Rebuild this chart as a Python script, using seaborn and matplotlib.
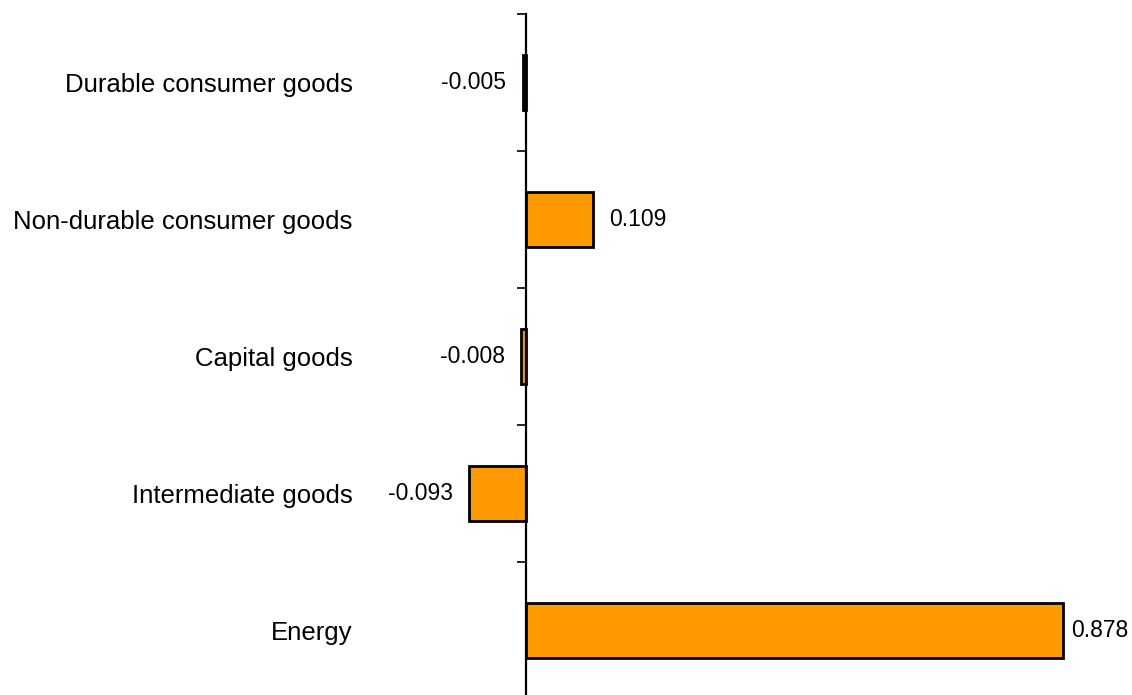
import matplotlib
matplotlib.use("Agg")
import matplotlib.pyplot as plt
import seaborn as sns
import pandas as pd

categories = ["Durable consumer goods", "Non-durable consumer goods", "Capital goods",
              "Intermediate goods", "Energy"]
values = [-0.005, 0.109, -0.008, -0.093, 0.878]

df = pd.DataFrame({"category": categories, "value": values})

sns.set_style("white")
plt.rcParams["font.family"] = ["Liberation Sans", "DejaVu Sans"]

fig = plt.figure(figsize=(11.32, 6.95), dpi=100)
ax = fig.add_axes([0.3837, -0.0058, 0.5943, 0.9857])

sns.barplot(data=df, x="value", y="category", orient="h", order=categories,
            color="#FF9900", saturation=1, width=0.4, edgecolor="black",
            linewidth=2, ax=ax)

ax.set_xlim(-0.15, 0.95)
ax.set_ylim(4.5, -0.5)
ax.set_xlabel("")
ax.set_ylabel("")

# spine on zero, ticks between categories
for s in ["top", "right", "bottom"]:
    ax.spines[s].set_visible(False)
ax.spines["left"].set_position(("data", 0))
ax.spines["left"].set_linewidth(1.6)
ax.spines["left"].set_color("black")
ax.set_xticks([])
ax.set_yticks([i - 0.5 for i in range(len(categories) + 1)])
ax.set_yticklabels([])
ax.tick_params(axis="y", which="major", left=True, length=6.5, width=1.2, color="black", direction="out")
ax.set_yticks(range(len(categories)), categories, minor=True)
ax.tick_params(axis="y", which="minor", length=0, pad=125, labelsize=18.5, labelcolor="black")

for i, v in enumerate(values):
    pad = 6 if v == max(values) else 12
    ax.annotate(f"{v:.3f}", xy=(v, i), xytext=(pad if v > 0 else -pad, 0),
                textcoords="offset points", ha="left" if v > 0 else "right",
                va="center", fontsize=16.5, color="black")

fig.savefig("out.png", dpi=100)
